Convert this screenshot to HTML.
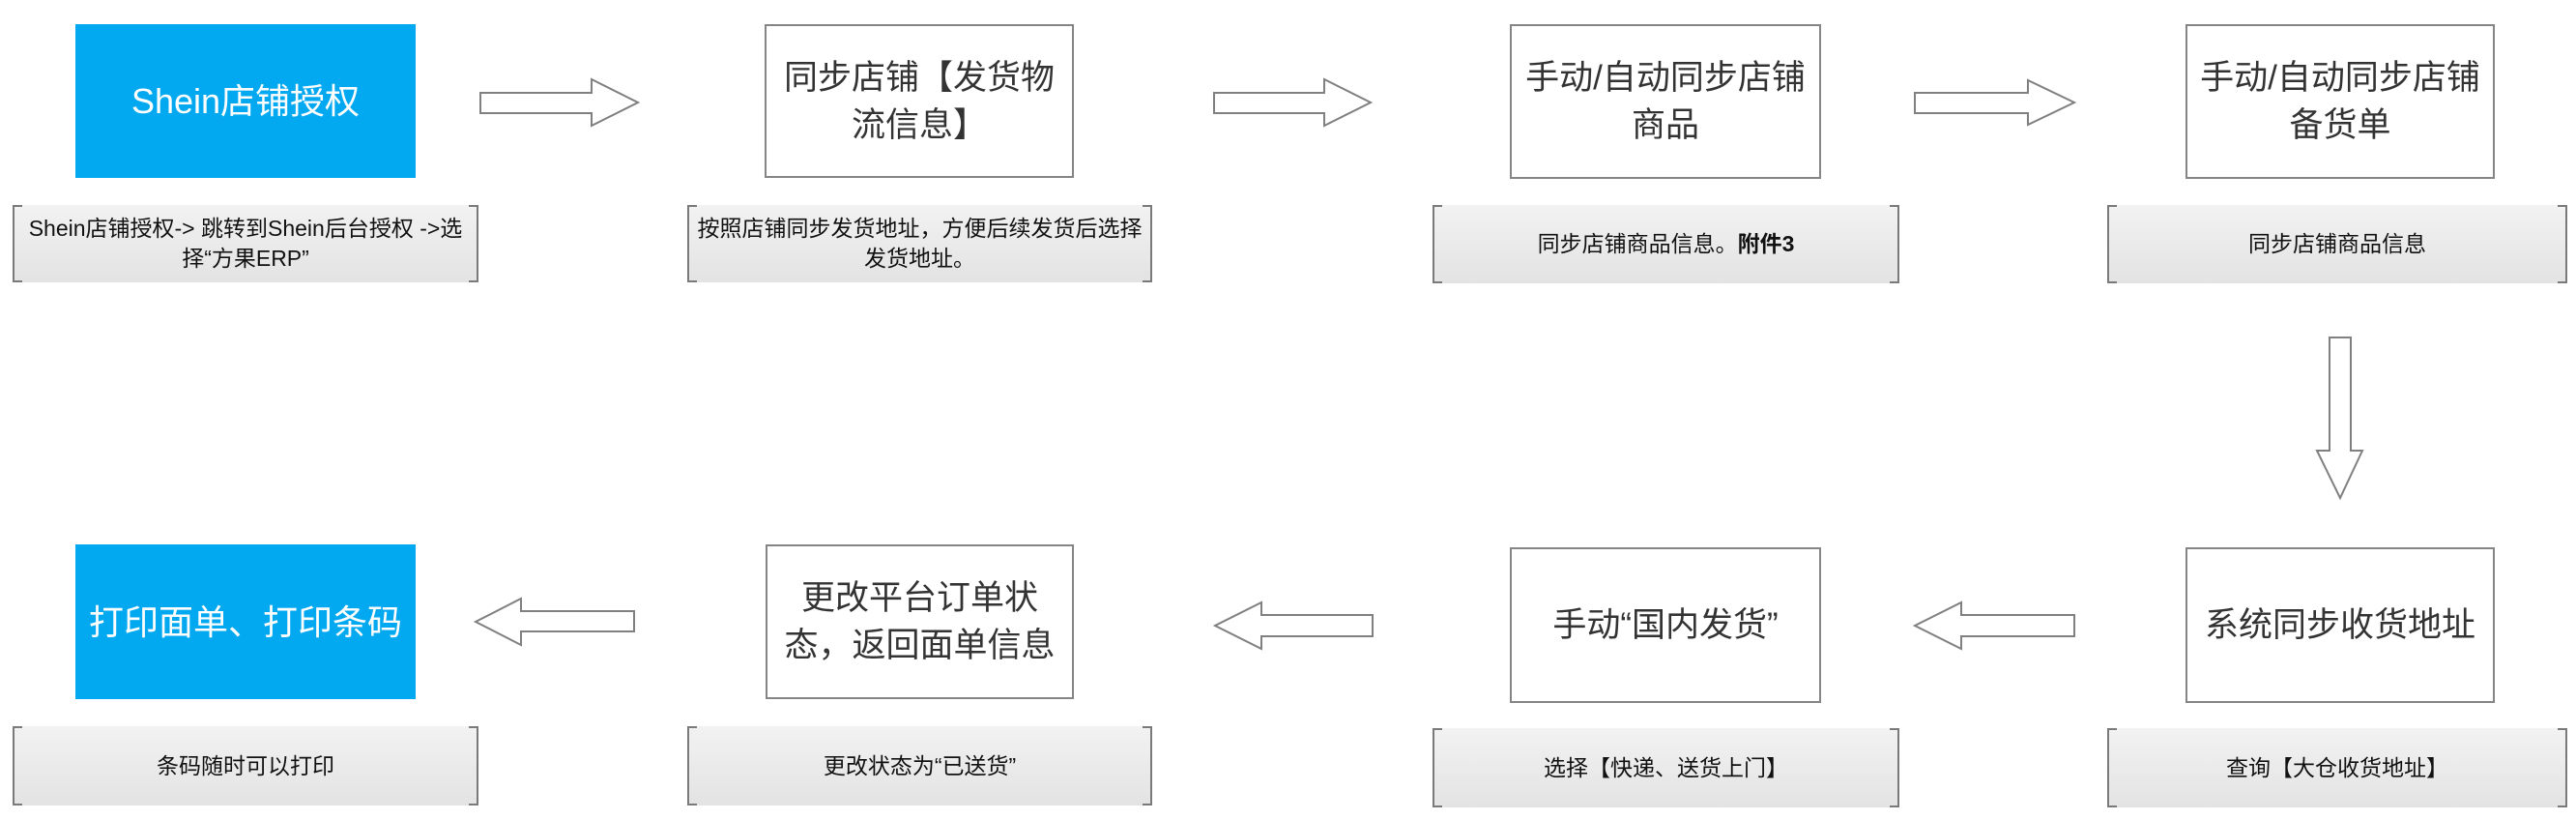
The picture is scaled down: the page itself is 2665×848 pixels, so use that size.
<!DOCTYPE html>
<html><head><meta charset="utf-8"><style>
body{margin:0;width:2665px;height:848px;background:#fff;position:relative;overflow:hidden;font-family:"Liberation Sans","Noto Sans CJK SC",sans-serif}
.b{position:absolute;box-sizing:border-box;display:flex;align-items:center;justify-content:center;text-align:center;font-size:35px;line-height:49px;color:#333}
.w{border:2px solid #858585;background:#fff}
.blue{background:#03a9f0;color:#fff;font-size:36px}
.n{position:absolute;box-sizing:border-box;display:flex;align-items:center;justify-content:center;text-align:center;font-size:23px;line-height:31px;color:#111;background:linear-gradient(#f2f2f2,#e3e3e3);border-left:2px solid #7a7a7a;border-right:2px solid #7a7a7a;padding:0 6px}
.n:before,.n:after{content:"";position:absolute;top:0;bottom:0;left:0;right:0;pointer-events:none}
.n:before{border-top:2px solid #7a7a7a;border-bottom:2px solid #7a7a7a;width:8px}
.n:after{border-top:2px solid #7a7a7a;border-bottom:2px solid #7a7a7a;width:8px;left:auto}
</style></head><body>
<div class="b blue" style="left:78px;top:25px;width:352px;height:159px">Shein店铺授权</div>
<div class="b w" style="left:791px;top:25px;width:320px;height:159px">同步店铺【发货物<br>流信息】</div>
<div class="b w" style="left:1562px;top:25px;width:322px;height:160px">手动/自动同步店铺<br>商品</div>
<div class="b w" style="left:2261px;top:25px;width:320px;height:160px">手动/自动同步店铺<br>备货单</div>

<div class="n" style="left:13px;top:212px;width:482px;height:80px">Shein店铺授权-> 跳转到Shein后台授权 ->选<br>择“方果ERP”</div>
<div class="n" style="left:711px;top:212px;width:481px;height:80px">按照店铺同步发货地址，方便后续发货后选择<br>发货地址。</div>
<div class="n" style="left:1482px;top:212px;width:483px;height:81px">同步店铺商品信息。<b>附件3</b></div>
<div class="n" style="left:2180px;top:212px;width:476px;height:81px">同步店铺商品信息</div>

<div class="b blue" style="left:78px;top:563px;width:352px;height:160px">打印面单、打印条码</div>
<div class="b w" style="left:792px;top:563px;width:319px;height:160px">更改平台订单状<br>态，返回面单信息</div>
<div class="b w" style="left:1562px;top:566px;width:322px;height:161px">手动“国内发货”</div>
<div class="b w" style="left:2261px;top:566px;width:320px;height:161px">系统同步收货地址</div>

<div class="n" style="left:13px;top:751px;width:482px;height:82px">条码随时可以打印</div>
<div class="n" style="left:711px;top:751px;width:481px;height:82px">更改状态为“已送货”</div>
<div class="n" style="left:1482px;top:753px;width:483px;height:82px">选择【快递、送货上门】</div>
<div class="n" style="left:2180px;top:753px;width:476px;height:82px">查询【大仓收货地址】</div>

<svg style="position:absolute;left:0;top:0" width="2665" height="848">
<g fill="#fff" stroke="#808080" stroke-width="2">
<polygon points="497,96 612,96 612,82 660,106 612,130 612,117 497,117"/>
<polygon points="1256,96 1370,96 1370,82 1418,106 1370,130 1370,117 1256,117"/>
<polygon points="1981,96 2098,96 2098,83 2146,106 2098,129 2098,117 1981,117"/>
<polygon points="2410,349 2432,349 2432,466 2444,466 2421,515 2397,466 2410,466"/>
<polygon points="2146,636 2029,636 2029,623 1981,647 2029,671 2029,658 2146,658"/>
<polygon points="1420,636 1305,636 1305,623 1257,647 1305,671 1305,658 1420,658"/>
<polygon points="656,632 539,632 539,619 492,643 539,667 539,653 656,653"/>
</g></svg>
</body></html>
